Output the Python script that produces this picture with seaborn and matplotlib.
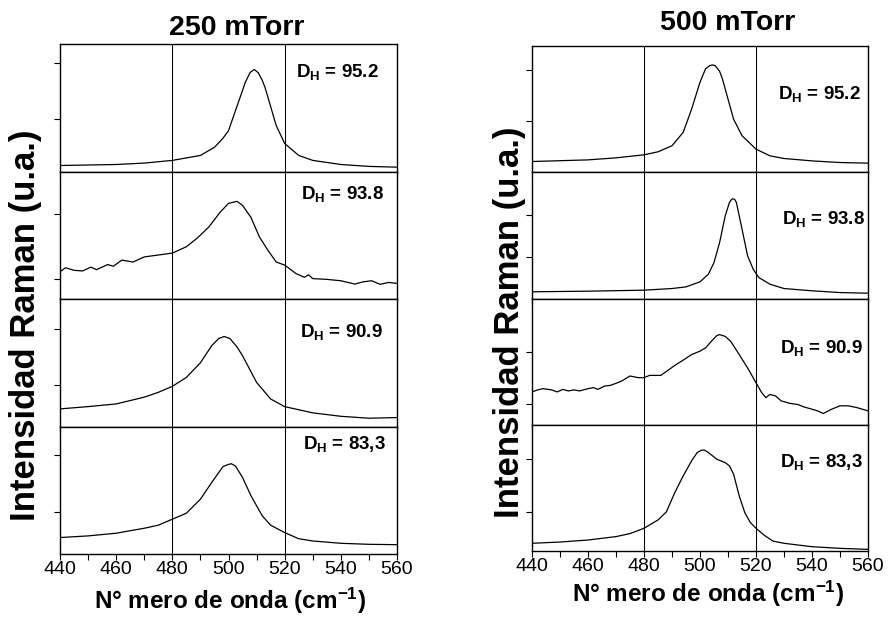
import numpy as np
import pandas as pd
import matplotlib
matplotlib.use('Agg')
import matplotlib.pyplot as plt
import seaborn as sns
from matplotlib.ticker import MultipleLocator

# ---------------- data (intensity in a.u.) ----------------
titles = ["250 mTorr", "500 mTorr"]
dh_250 = ["95.2", "93.8", "90.9", "83,3"]
dh_500 = ["95.2", "93.8", "90.9", "83,3"]
xticks = [440, 460, 480, 500, 520, 540, 560]
ref_lines = [480, 520]

# 250 mTorr, D_H = 95.2
x_250_a = [440, 460, 470, 480, 490, 495, 498, 500, 503, 506, 507.7, 509.2, 510.6, 512, 513, 515, 517, 520, 525, 530, 540, 550, 560]
y_250_a = [0.047, 0.055, 0.066, 0.087, 0.126, 0.19, 0.26, 0.32, 0.51, 0.70, 0.777, 0.80, 0.774, 0.716, 0.66, 0.51, 0.36, 0.22, 0.126, 0.087, 0.055, 0.04, 0.034]
# 250 mTorr, D_H = 93.8
x_250_b = [440, 442, 445, 448, 451, 453, 457, 459, 462, 466, 470, 480, 485, 489, 493, 497, 500, 503, 505, 508, 511, 514, 517, 520, 524, 527, 528.5, 530, 535, 540, 545, 548, 551, 554, 557, 560]
y_250_b = [0.214, 0.245, 0.225, 0.22, 0.25, 0.23, 0.27, 0.257, 0.305, 0.29, 0.33, 0.36, 0.41, 0.48, 0.565, 0.68, 0.75, 0.766, 0.734, 0.64, 0.487, 0.383, 0.29, 0.266, 0.2, 0.17, 0.19, 0.16, 0.154, 0.143, 0.117, 0.135, 0.143, 0.115, 0.13, 0.122]
# 250 mTorr, D_H = 90.9
x_250_c = [440, 450, 460, 470, 475, 480, 485, 490, 494, 496.5, 498.5, 500.5, 503, 505, 510, 515, 520, 530, 540, 550, 560]
y_250_c = [0.138, 0.156, 0.177, 0.23, 0.268, 0.315, 0.385, 0.50, 0.633, 0.69, 0.706, 0.69, 0.625, 0.555, 0.346, 0.216, 0.156, 0.107, 0.08, 0.065, 0.07]
# 250 mTorr, D_H = 83,3
x_250_d = [440, 450, 460, 470, 475, 480, 485, 490, 494, 498, 500, 501, 502.5, 505, 508, 512, 515, 520, 525, 530, 540, 550, 560]
y_250_d = [0.129, 0.142, 0.163, 0.202, 0.226, 0.273, 0.32, 0.43, 0.56, 0.685, 0.703, 0.708, 0.69, 0.60, 0.457, 0.30, 0.226, 0.168, 0.12, 0.102, 0.084, 0.076, 0.073]

# 500 mTorr, D_H = 95.2
x_500_a = [440, 460, 470, 480, 485, 490, 494, 497, 500, 502, 503.5, 504.5, 505.5, 507, 508, 510, 512, 515, 520, 525, 530, 540, 550, 560]
y_500_a = [0.085, 0.098, 0.114, 0.138, 0.162, 0.21, 0.316, 0.50, 0.713, 0.82, 0.845, 0.85, 0.843, 0.80, 0.74, 0.58, 0.42, 0.29, 0.183, 0.13, 0.109, 0.09, 0.077, 0.072]
# 500 mTorr, D_H = 93.8
x_500_b = [440, 460, 480, 490, 495, 500, 503, 505, 507, 509, 510.5, 511.3, 511.8, 512.4, 513, 515, 517, 519, 521, 525, 530, 540, 550, 560]
y_500_b = [0.053, 0.058, 0.066, 0.079, 0.092, 0.132, 0.193, 0.285, 0.443, 0.654, 0.76, 0.785, 0.79, 0.785, 0.76, 0.55, 0.338, 0.232, 0.166, 0.113, 0.079, 0.061, 0.047, 0.042]
# 500 mTorr, D_H = 90.9
x_500_c = [440, 442, 444, 447, 449, 451, 453, 455, 457, 460, 462, 463.5, 466, 468, 470, 472, 475, 478, 480, 482, 485, 486, 489, 491, 494, 497, 500, 502, 504, 506, 507, 509, 511, 514, 517, 520, 522, 523.5, 525, 527, 529, 532, 535, 537, 540, 542, 544, 547, 550, 553, 556, 560]
y_500_c = [0.26, 0.276, 0.286, 0.276, 0.26, 0.28, 0.268, 0.276, 0.268, 0.286, 0.294, 0.28, 0.307, 0.312, 0.328, 0.346, 0.386, 0.373, 0.373, 0.391, 0.391, 0.391, 0.438, 0.47, 0.512, 0.556, 0.583, 0.609, 0.66, 0.706, 0.714, 0.70, 0.66, 0.556, 0.45, 0.333, 0.255, 0.215, 0.24, 0.228, 0.189, 0.17, 0.16, 0.142, 0.123, 0.11, 0.089, 0.123, 0.15, 0.15, 0.136, 0.11]
# 500 mTorr, D_H = 83,3
x_500_d = [440, 450, 460, 470, 475, 480, 485, 488, 491, 494, 497, 499, 500.5, 501.5, 503, 506, 509, 510.5, 512, 514, 516, 518, 520, 523, 526, 530, 540, 550, 560]
y_500_d = [0.061, 0.071, 0.087, 0.114, 0.138, 0.18, 0.246, 0.31, 0.463, 0.595, 0.714, 0.78, 0.798, 0.80, 0.78, 0.727, 0.70, 0.675, 0.608, 0.437, 0.304, 0.225, 0.18, 0.124, 0.079, 0.061, 0.034, 0.021, 0.013]

# y tick marks of each panel (unlabelled)
yt_250 = [[0.41, 0.848], [0.154, 0.664], [0.326, 0.768], [0.333, 0.78]]
yt_500 = [[0.403, 0.806], [0.325, 0.662], [0.163, 0.575], [0.31, 0.728]]

series_250 = [(x_250_a, y_250_a), (x_250_b, y_250_b), (x_250_c, y_250_c), (x_250_d, y_250_d)]
series_500 = [(x_500_a, y_500_a), (x_500_b, y_500_b), (x_500_c, y_500_c), (x_500_d, y_500_d)]

# ---------------- style ----------------
sns.set_style('ticks')
plt.rcParams['font.family'] = ['Liberation Sans', 'DejaVu Sans']
plt.rcParams['mathtext.fontset'] = 'custom'
plt.rcParams['mathtext.rm'] = 'Liberation Sans:bold'
plt.rcParams['mathtext.bf'] = 'Liberation Sans:bold'
plt.rcParams['mathtext.it'] = 'Liberation Sans:bold'
plt.rcParams['text.color'] = 'black'
plt.rcParams['axes.labelcolor'] = 'black'
plt.rcParams['xtick.color'] = 'black'
plt.rcParams['ytick.color'] = 'black'
plt.rcParams['xtick.labelcolor'] = 'black'

fig = plt.figure(figsize=(8.9, 6.19), dpi=100)
W, H = 890.0, 619.0

columns = [
    dict(left=60, right=397, top=44, bottom=554, series=series_250, dh=dh_250, yt=yt_250,
         lab=[(0.70, 0.744), (0.715, 0.785), (0.713, 0.699), (0.72, 0.823)]),
    dict(left=532, right=868, top=46, bottom=551, series=series_500, dh=dh_500, yt=yt_500,
         lab=[(0.732, 0.584), (0.744, 0.592), (0.738, 0.571), (0.738, 0.663)]),
]

for c in columns:
    ph = (c['bottom'] - c['top']) / 4.0
    for i in range(4):
        top_px = c['top'] + i * ph
        ax = fig.add_axes([c['left'] / W, 1 - (top_px + ph) / H, (c['right'] - c['left']) / W, ph / H])
        xs, ys = c['series'][i]
        df = pd.DataFrame({'x': xs, 'y': ys})
        sns.lineplot(data=df, x='x', y='y', ax=ax, color='black', linewidth=0.9)
        for v in ref_lines:
            ax.axvline(v, color='black', linewidth=0.75)
        ax.set_xlim(440, 560)
        ax.set_ylim(0, 1)
        ax.set_xticks(xticks)
        ax.xaxis.set_minor_locator(MultipleLocator(10))
        ax.set_yticks(c['yt'][i])
        ax.set_yticklabels([])
        ax.set_xlabel('')
        ax.set_ylabel('')
        for s in ax.spines.values():
            s.set_visible(True)
            s.set_linewidth(1.0)
            s.set_color('black')
        ax.tick_params(axis='both', which='both', direction='out', length=4, width=0.8, color='black')
        ax.tick_params(axis='x', which='both', top=False, bottom=True)
        if i < 3:
            ax.set_xticklabels([])
        else:
            ax.tick_params(axis='x', labelsize=14, pad=1)
        lx, ly = c['lab'][i]
        ax.text(lx, ly, r'D$_{\mathbf{H}}$ = ' + c['dh'][i], transform=ax.transAxes,
                fontsize=13.5, fontweight='bold', ha='left', va='baseline', color='black')

fig.text(0.266, 0.955, titles[0], fontsize=20.5, fontweight='bold', ha='center', va='center')
fig.text(0.817, 0.963, titles[1], fontsize=20.5, fontweight='bold', ha='center', va='center')

ylab = 'Intensidad Raman (u.a.)'
xlab = r'N° mero de onda (cm$^{\mathbf{-1}}$)'
fig.text(0.029, 0.475, ylab, rotation=90, fontsize=25, fontweight='bold', ha='center', va='center')
fig.text(0.573, 0.48, ylab, rotation=90, fontsize=25, fontweight='bold', ha='center', va='center')
fig.text(0.258, 0.029, xlab, fontsize=17.5, fontweight='bold', ha='center', va='center')
fig.text(0.795, 0.041, xlab, fontsize=17.5, fontweight='bold', ha='center', va='center')

fig.savefig('out.png', dpi=100)
